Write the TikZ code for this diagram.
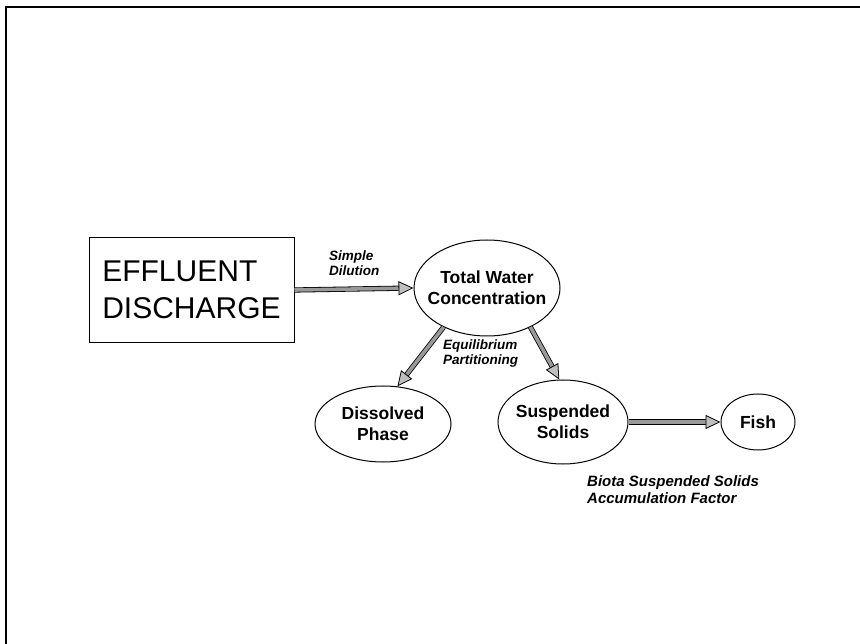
\documentclass[tikz,border=0pt]{standalone}
\usepackage{fontspec}
\setmainfont{Liberation Sans}
\usetikzlibrary{arrows.meta,shapes.geometric}

\begin{document}
\begin{tikzpicture}[
      x = 1pt, y = -1pt,
      every node/.style = {inner sep = 0pt},
      bubble/.style = {draw, ellipse, line width = 1pt, inner xsep = -22pt, align = center,
                       font = \fontsize{17.5}{21}\selectfont\bfseries},
      note/.style = {anchor = north west, align = left,
                     font = \fontsize{13.5}{15}\selectfont\bfseries\itshape},
      flow/.style = {line width = 0.8pt, double = black!40, double distance = 3.6pt,
                     -{Triangle[length = 15pt, width = 14pt, fill = black!25]}}
      ]
      \useasboundingbox (0,0) rectangle (860,644);
      % frame of the page
      \draw[line width = 2pt] (6,644) -- (6,7) -- (860,7);

      \node[draw, line width = 1pt, minimum width = 205pt, minimum height = 105pt, align = left,
            font = \fontsize{30}{37}\selectfont] (effluent) at (191.5,290) {EFFLUENT\\DISCHARGE};
      \node[bubble, minimum width = 146pt, minimum height = 96pt] (total) at (487,288) {Total Water\\Concentration};
      \node[bubble, minimum width = 136pt, minimum height = 76pt] (dissolved) at (383,424) {Dissolved\\Phase};
      \node[bubble, minimum width = 130pt, minimum height = 84pt] (suspended) at (563,422) {Suspended\\Solids};
      \node[bubble, minimum width = 74pt, minimum height = 56pt] (fish) at (758,422) {Fish};

      \draw[flow] (effluent.east) -- (total.west);
      \draw[flow] (total.222) -- (dissolved.69);
      \draw[flow] (total.318) -- (suspended.95);
      \draw[flow] (suspended) -- (fish);

      \node[note] (dilution) at (329,251) {Simple\\Dilution};
      \node[note] (partition) at (443,340) {Equilibrium\\Partitioning};
      \node[note, font = \fontsize{15}{17}\selectfont\bfseries\itshape] (bsaf) at (587,475) {Biota Suspended Solids\\Accumulation Factor};
\end{tikzpicture}
\end{document}
